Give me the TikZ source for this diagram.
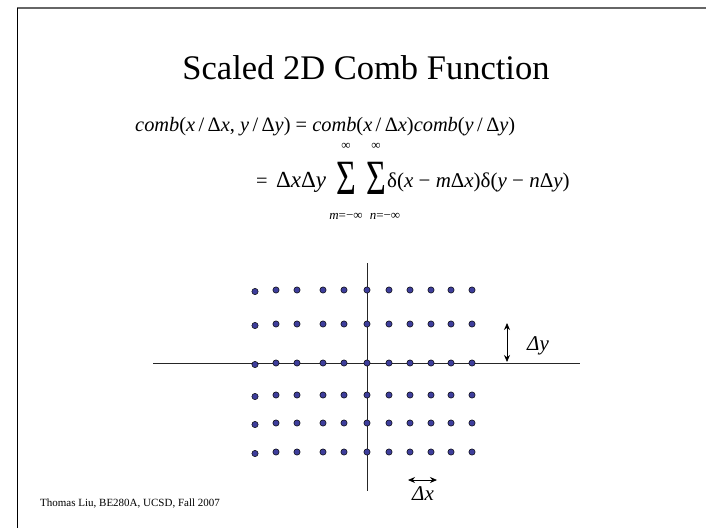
\documentclass[tikz,border=0pt]{standalone}
\usepackage{fontspec}
\usepackage{graphicx}
\setmainfont{Liberation Serif}
\usetikzlibrary{arrows.meta}
\definecolor{dotblue}{RGB}{62,62,155}
\tikzset{
  dot/.style={circle,draw=black,line width=0.5pt,fill=dotblue,inner sep=0pt,minimum size=6.3pt},
  axis/.style={line width=0.9pt,draw=black!85},
  dimarrow/.style={line width=0.8pt,{Stealth[length=7pt,width=6pt]}-{Stealth[length=7pt,width=6pt]}},
  eq/.style={font=\fontsize{20.4}{20.4}\selectfont,inner sep=0pt,anchor=base west},
  lim/.style={font=\fontsize{13}{13}\selectfont,inner sep=0pt},
  bigsum/.style={font=\fontsize{34}{34}\selectfont,inner sep=0pt},
}
\begin{document}
\begin{tikzpicture}[x=1pt,y=-1pt]
\useasboundingbox (0,0) rectangle (706,528);
% frame
\coordinate (ftl) at (17,8);
\coordinate (ftr) at (706,8);
\coordinate (fbl) at (17,528);
\draw[line width=1.4pt,gray!80!black] (ftl) -- (ftr);
\draw[line width=1pt,black] (ftl) -- (fbl);
% title
\node[font=\fontsize{34.5}{34.5}\selectfont,inner sep=0pt,anchor=base] (title) at (366,79) {Scaled 2D Comb Function};
% equation line 1
\node[eq] (eq1) at (135,131) {\textit{comb}(\textit{x}\,/\,Δ\textit{x}, \textit{y}\,/\,Δ\textit{y}) = \textit{comb}(\textit{x}\,/\,Δ\textit{x})\textit{comb}(\textit{y}\,/\,Δ\textit{y})};
% equation line 2
\node[eq] (eqs) at (256,187) {=};
\node[eq,font=\fontsize{23}{23}\selectfont] (eq2a) at (276,187) {Δ\textit{x}Δ\textit{y}};
\node[bigsum] (sum1) at (346,178.5) {\scalebox{1}[1.45]{Σ}};
\node[bigsum] (sum2) at (376,178.5) {\scalebox{1}[1.45]{Σ}};
\node[lim] (inf1) at (346,146) {∞};
\node[lim] (inf2) at (376,146) {∞};
\node[lim] (low1) at (346,216) {\textit{m}=−∞};
\node[lim] (low2) at (385,216) {\textit{n}=−∞};
\node[eq,font=\fontsize{21}{21}\selectfont] (eq2b) at (387,187) {δ(\textit{x} − \textit{m}Δ\textit{x})δ(\textit{y} − \textit{n}Δ\textit{y})};
% axes
\coordinate (vt) at (367,263);
\coordinate (vb) at (367,491);
\coordinate (hl) at (153,363);
\coordinate (hr) at (580,363);
\draw[axis] (hl) -- (hr);
\draw[axis] (vt) -- (vb);
% dots
\foreach \yy [count=\j] in {290,324,363,395,423,452} {
  \foreach \xx [count=\i] in {255,276,297,323,344,367,389,410,431,451,472} {
    \ifnum\i=1
      \node[dot] (d\i-\j) at (\xx,\yy+1.5) {};
    \else
      \node[dot] (d\i-\j) at (\xx,\yy) {};
    \fi
  }
}
% delta y
\coordinate (dyt) at (507,323);
\coordinate (dyb) at (507,362);
\draw[dimarrow] (dyt) -- (dyb);
\node[font=\fontsize{21}{21}\selectfont\itshape,inner sep=0pt] (dylab) at (538,346) {Δy};
% delta x
\coordinate (dxl) at (408,480);
\coordinate (dxr) at (437,480);
\draw[dimarrow] (dxl) -- (dxr);
\node[font=\fontsize{21}{21}\selectfont\itshape,inner sep=0pt] (dxlab) at (423,494) {Δx};
% footer
\node[font=\fontsize{11}{11}\selectfont,inner sep=0pt,anchor=west] (foot) at (40,504) {Thomas Liu, BE280A, UCSD, Fall 2007};
\end{tikzpicture}
\end{document}
